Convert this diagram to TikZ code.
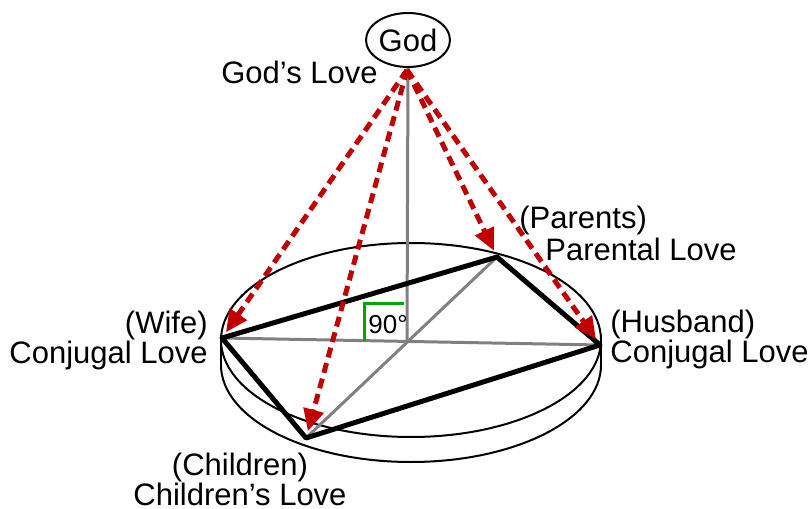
\documentclass[tikz,border=0pt]{standalone}
\usepackage{fontspec}
\setmainfont{Liberation Sans}
\usetikzlibrary{shapes.geometric,arrows.meta}
\definecolor{lovered}{RGB}{192,0,0}
\definecolor{anglegreen}{RGB}{0,166,0}
\begin{document}
\begin{tikzpicture}[x=0.5pt,y=-0.5pt,
  lbl/.style={font=\fontsize{15.5}{18}\selectfont,inner sep=0pt},
  love/.style={lovered,line width=2.5pt,dash pattern=on 5pt off 3pt,
    shorten >=3.5pt,-{Triangle[length=11pt,width=10pt]}},
  axis/.style={gray,line width=1.5pt},
  edge/.style={black,line width=2.5pt,line join=round}]
  \useasboundingbox (0,0) rectangle (811,509);

  % the disk
  \draw[line width=1pt] (221,365) arc[start angle=180,end angle=360,x radius=95pt,y radius=48.5pt];
  \draw[line width=1pt] (221,340) -- (221,365);
  \draw[line width=1pt] (601,340) -- (601,365);
  \draw[line width=1pt,fill=white] (411,340) ellipse[x radius=95pt,y radius=48.5pt];

  \node[draw,ellipse,line width=1pt,minimum width=42pt,minimum height=27pt,
    inner sep=0pt,font=\fontsize{15.5}{18}\selectfont] (god) at (408,40) {God};
  \coordinate (apex) at (407,70);
  \coordinate (ctr) at (407,342);
  \coordinate (wife) at (222,338);
  \coordinate (husband) at (600,345);
  \coordinate (parents) at (497,257);
  \coordinate (children) at (306,438);

  \draw[axis] (god.south) -- (ctr);
  \draw[axis] (wife) -- (husband);
  \draw[axis] (parents) -- (children);
  \draw[anglegreen,line width=1.5pt] (364,341) -- (364,303) -- (404,303);
  \node[anchor=base west,inner sep=0pt,font=\fontsize{13}{15}\selectfont] (rightangle) at (368,333) {90°};
  \draw[edge] (wife) -- (parents) -- (husband) -- (children) -- cycle;

  \draw[love] (apex) -- (wife);
  \draw[love] (apex) -- (children);
  \draw[love] (apex) -- (parents);
  \draw[love] (apex) -- (husband);

  \node[lbl,anchor=base east] (godlove) at (378,83) {God’s Love};
  \node[lbl,anchor=base east] (wifename) at (208,333) {(Wife)};
  \node[lbl,anchor=base east] (wifelove) at (208,363) {Conjugal Love};
  \node[lbl,anchor=base west] (husbandname) at (610,332) {(Husband)};
  \node[lbl,anchor=base west] (husbandlove) at (610,362) {Conjugal Love};
  \node[lbl,anchor=base west] (parentsname) at (519,228) {(Parents)};
  \node[lbl,anchor=base west] (parentslove) at (545,260) {Parental Love};
  \node[lbl,anchor=base] (childrenname) at (240,475) {(Children)};
  \node[lbl,anchor=base] (childrenlove) at (240,505) {Children’s Love};
\end{tikzpicture}
\end{document}
